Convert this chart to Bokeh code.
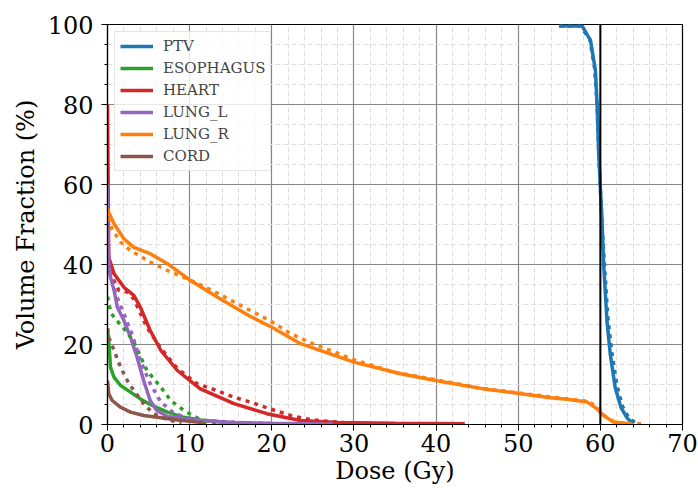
from bokeh.plotting import figure
from bokeh.models import Span, Legend, LegendItem, SingleIntervalTicker, Range1d
from bokeh.embed import file_html
from bokeh.resources import INLINE

# ---- data (dose in Gy, volume in %) ----
structures = ["PTV", "ESOPHAGUS", "HEART", "LUNG_L", "LUNG_R", "CORD"]
colors = ["#1f77b4", "#2ca02c", "#d62728", "#9467bd", "#ff7f0e", "#8c564b"]

ptv_dose = [55, 57.8, 58.8, 59.4, 59.6, 59.8, 60.0, 60.2, 60.4, 60.8, 61.2, 61.8, 62.5, 63.3, 64.0]
ptv_vol = [99.6, 99.6, 96, 88.5, 80.2, 67.7, 59.3, 51, 40.2, 26, 17.7, 9.3, 4.3, 1.5, 0.3]
ptv_dose_b = [55, 57.5, 58.7, 59.3, 59.6, 59.8, 60.0, 60.2, 60.5, 60.9, 61.4, 62.0, 62.7, 63.5, 64.5]
ptv_vol_b = [99.6, 99.6, 96.5, 89, 80, 68, 59, 50, 40, 27, 18, 10, 4.5, 1.5, 0.2]

eso_dose = [0, 0.15, 0.37, 0.8, 1.6, 2.8, 4.0, 5.2, 7.3, 9.3, 11.3, 13.4, 15]
eso_vol = [24, 21, 14.3, 11.8, 9.75, 8.1, 6.4, 5, 3.1, 1.8, 1.1, 0.7, 0.4]
eso_dose_b = [0, 0.4, 0.8, 2.4, 3.2, 4.8, 6.5, 7.7, 9.3, 11.3, 12.6, 13.5]
eso_vol_b = [32, 28, 26.8, 23, 20.6, 13.5, 9.3, 6, 3.5, 1.2, 0.5, 0.3]

heart_dose = [0, 0.15, 0.8, 2.0, 3.2, 4.0, 5.2, 6.5, 8.5, 11.3, 15.4, 19.4, 23.5, 28, 35, 43.5]
heart_vol = [80, 41.8, 37.7, 34.3, 32.3, 29.3, 23.5, 18.5, 13.5, 8.9, 5.2, 2.7, 1.0, 0.5, 0.3, 0.2]
heart_dose_b = [0, 0.3, 1.4, 2.4, 3.2, 4.8, 6.4, 8.5, 10.9, 13.3, 15.4, 17.4, 19.8, 22.3, 24.7, 28, 29.5]
heart_vol_b = [45, 38, 33.5, 33.1, 31.4, 24.3, 19.3, 14, 10.2, 8.5, 6.8, 5.6, 3.9, 2.25, 1.2, 0.6, 0.4]

lungl_dose = [0, 0.15, 0.37, 0.8, 1.2, 2.0, 2.8, 3.6, 4.4, 5.2, 6.0, 7.3, 9.3, 11.3, 15.4, 20, 27.5]
lungl_vol = [60, 39.3, 36.8, 33.5, 29.3, 26, 21.8, 16.8, 11, 6, 3.5, 2, 1.4, 1.0, 0.5, 0.3, 0.1]
lungl_dose_b = [0, 0.3, 1.0, 2.0, 3.0, 4.0, 5.2, 6.5, 8.0, 9.3, 12, 16, 20]
lungl_vol_b = [45, 38, 32.7, 27.7, 22.5, 16, 10.2, 5.6, 3, 1.8, 1.0, 0.5, 0.2]

lungr_dose = [0, 0.15, 0.8, 2.0, 3.2, 5.2, 7.3, 10.1, 13.4, 17.4, 20, 23.5, 30, 35.7, 39.9,
              45.8, 49.9, 53.9, 56, 58.4, 59.6, 60.4, 61.6, 64.0]
lungr_vol = [54, 53, 50.2, 46.4, 44.3, 42.7, 40.2, 36, 31.8, 27, 24.3, 20.2, 15.6, 12.7, 11,
             8.9, 7.8, 6.7, 6.3, 5.6, 3.9, 2.25, 0.6, 0.1]
lungr_dose_b = [0, 0.5, 1.6, 2.8, 5.2, 7.7, 10, 13.4, 17.4, 20, 22.3, 25, 30, 35, 40, 45, 50,
                55, 58.5, 59.7, 60.5, 61.8, 63, 65.3]
lungr_vol_b = [54, 49, 45.6, 43.5, 40.6, 38.1, 36.2, 32.8, 28.5, 25.7, 22.7, 20.2, 16.2, 13,
               11.2, 9.2, 7.9, 6.6, 5.8, 4.3, 2.2, 0.5, 0.2, 0.2]

cord_dose = [0, 0.15, 0.57, 1.6, 2.8, 4.4, 6.5, 8.5, 10.6, 12]
cord_vol = [11, 7.7, 6, 4.3, 3.1, 2.25, 1.7, 1.1, 0.7, 0.4]
cord_dose_b = [0, 0.15, 0.8, 1.6, 2.4, 3.2, 4.4, 5.6, 7.3, 9]
cord_vol_b = [24, 21.8, 18.5, 14.3, 11, 8.5, 5.2, 2.7, 1.2, 0.4]

prescription_dose = 60

x_ticks_interval = 10
y_ticks_interval = 20

solid_data = [(ptv_dose, ptv_vol), (eso_dose, eso_vol), (heart_dose, heart_vol),
              (lungl_dose, lungl_vol), (lungr_dose, lungr_vol), (cord_dose, cord_vol)]
dotted_data = [(ptv_dose_b, ptv_vol_b), (eso_dose_b, eso_vol_b), (heart_dose_b, heart_vol_b),
               (lungl_dose_b, lungl_vol_b), (lungr_dose_b, lungr_vol_b), (cord_dose_b, cord_vol_b)]

FONT = "DejaVu Serif"

p = figure(width=698, height=488, output_backend="svg", toolbar_location=None,
           x_range=Range1d(0, 70), y_range=Range1d(0, 100),
           min_border_left=107, min_border_top=24, min_border_right=16, min_border_bottom=64)

p.xaxis.ticker = SingleIntervalTicker(interval=x_ticks_interval, num_minor_ticks=5)
p.yaxis.ticker = SingleIntervalTicker(interval=y_ticks_interval, num_minor_ticks=4)

for ax in (p.xaxis[0], p.yaxis[0]):
    ax.axis_line_color = "black"
    ax.axis_line_width = 1.2
    ax.major_tick_line_color = "black"
    ax.minor_tick_line_color = "black"
    ax.major_tick_in = 0
    ax.major_tick_out = 6
    ax.minor_tick_in = 0
    ax.minor_tick_out = 3
    ax.major_label_text_font = FONT
    ax.major_label_text_font_size = "24px"
    ax.major_label_text_color = "black"
    ax.axis_label_text_font = FONT
    ax.axis_label_text_font_size = "24px"
    ax.axis_label_text_font_style = "normal"
    ax.axis_label_text_color = "black"

p.xaxis.axis_label = "Dose (Gy)"
p.yaxis.axis_label = "Volume Fraction (%)"
p.xaxis.major_label_standoff = 3
p.xaxis.axis_label_standoff = 2
p.yaxis.major_label_standoff = 8
p.yaxis.axis_label_standoff = 5

for g in (p.xgrid[0], p.ygrid[0]):
    g.grid_line_color = "#888888"
    g.grid_line_width = 1.2
    g.minor_grid_line_color = "#dddddd"
    g.minor_grid_line_width = 1
    g.minor_grid_line_dash = "5 3"

p.outline_line_color = "black"
p.outline_line_width = 1.2

solid_renderers = []
for (d, v), c in zip(solid_data, colors):
    r = p.line(d, v, line_color=c, line_width=3.5)
    solid_renderers.append(r)
for (d, v), c in zip(dotted_data, colors):
    p.line(d, v, line_color=c, line_width=3.5, line_dash="4 5")

p.add_layout(Span(location=prescription_dose, dimension="height", line_color="black", line_width=2))

legend = Legend(items=[LegendItem(label=s, renderers=[r]) for s, r in zip(structures, solid_renderers)],
                location="top_left", margin=7, padding=5, spacing=4,
                glyph_width=33, glyph_height=18, label_height=18, label_standoff=10,
                label_text_font=FONT, label_text_font_size="15px",
                border_line_color="#cccccc", border_line_width=1,
                background_fill_color="white", background_fill_alpha=0.8)
p.add_layout(legend)

open("out.html", "w").write(file_html(p, INLINE))
